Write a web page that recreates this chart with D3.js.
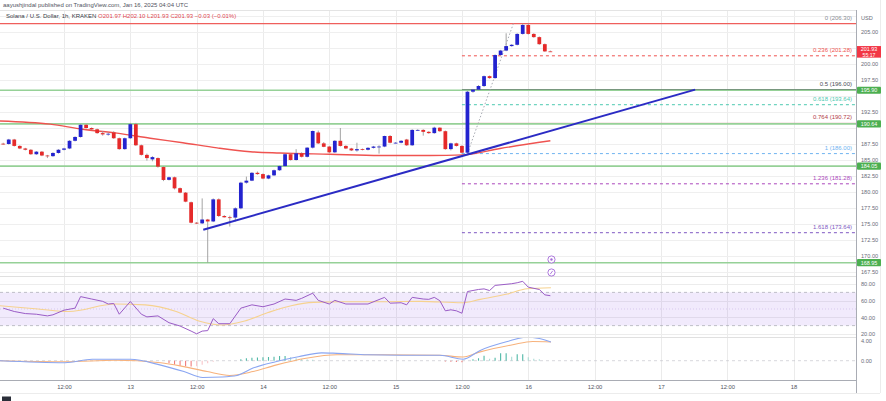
<!DOCTYPE html>
<html>
<head>
<meta charset="utf-8">
<script src="https://cdn.jsdelivr.net/npm/d3@7/dist/d3.min.js"></script>
<style>
  body { margin: 0; background: #fff; }
  svg { display: block; font-family: "Liberation Sans", Arial, sans-serif; }
</style>
</head>
<body>
<svg id="chart" width="886" height="401"></svg>
<script>
// SOL/USD 1h candles, hour counted from Jan 12 00:00 UTC
const candleHours = d3.range(1, 101);
const opens = [
  187.55, 187.5, 188.2, 187.2, 186.8, 186.6, 185.9, 186.3, 185.7, 185.6,
  186.1, 186.6, 186.8, 188.0, 188.6, 190.5, 190.0, 189.8, 189.2, 189.0,
  189.3, 188.4, 186.7, 188.4, 190.6, 187.3, 185.8, 185.1, 185.3, 183.9,
  181.9, 182.3, 180.6, 179.9, 178.4, 175.2, 175.1, 175.7, 175.4, 178.85,
  176.25, 176.05, 176.0, 177.45, 181.46, 181.77, 183.0, 182.8, 182.1, 182.6,
  183.4, 184.05, 185.9, 185.0, 186.05, 185.5, 186.93, 189.3, 187.6, 187.1,
  186.2, 188.0, 187.2, 186.8, 186.5, 186.7, 186.6, 186.9, 187.1, 187.1,
  188.75, 187.7, 187.7, 188.2, 187.3, 189.7, 189.7, 189.4, 189.2, 190.05,
  189.5, 186.7, 187.6, 187.2, 186.14, 195.67, 196.0, 196.56, 198.1, 197.8,
  201.4, 202.1, 202.8, 203.0, 204.7, 206.1, 204.7, 204.2, 203.1, 201.97
];
const highs = [
  187.7, 188.3, 188.3, 187.3, 186.9, 186.7, 186.4, 186.4, 185.8, 186.2,
  186.7, 186.9, 188.1, 188.7, 190.6, 190.6, 190.1, 189.9, 189.5, 189.3,
  189.5, 188.5, 188.5, 190.8, 190.8, 187.4, 186.0, 185.6, 185.4, 184.0,
  182.4, 182.4, 180.7, 180.0, 178.5, 175.3, 179.0, 175.8, 179.0, 179.0,
  176.4, 176.3, 177.6, 181.6, 182.4, 183.1, 183.2, 182.9, 182.7, 183.5,
  184.1, 186.0, 186.0, 186.7, 186.2, 187.0, 189.6, 189.6, 187.8, 187.2,
  188.1, 190.0, 187.3, 186.9, 187.7, 186.8, 187.0, 187.2, 187.3, 188.8,
  188.9, 187.8, 188.1, 188.3, 189.8, 189.8, 189.8, 189.5, 190.2, 190.1,
  189.6, 187.7, 187.7, 187.3, 195.8, 196.1, 196.7, 198.2, 198.2, 201.5,
  202.2, 204.8, 203.1, 204.8, 206.3, 206.3, 204.8, 204.3, 203.2, 202.10
];
const lows = [
  187.4, 187.4, 187.1, 186.7, 186.5, 185.8, 185.8, 185.6, 185.3, 185.5,
  186.0, 186.5, 186.7, 187.9, 188.5, 189.9, 189.7, 189.1, 188.8, 188.8,
  188.3, 186.6, 186.6, 188.3, 187.2, 185.7, 184.9, 184.8, 183.8, 181.7,
  181.8, 180.4, 179.8, 178.4, 175.1, 175.0, 175.0, 168.95, 175.3, 176.1,
  176.0, 174.6, 175.4, 177.3, 181.3, 181.7, 182.7, 182.0, 182.0, 182.5,
  183.3, 184.0, 184.9, 184.9, 185.4, 185.4, 186.8, 187.5, 187.0, 186.1,
  186.1, 187.1, 186.7, 186.4, 186.3, 186.5, 186.5, 186.8, 186.0, 187.0,
  187.6, 187.6, 187.6, 187.2, 187.2, 189.6, 188.8, 189.1, 189.1, 189.4,
  186.6, 186.5, 187.1, 186.0, 186.0, 195.5, 195.9, 196.4, 197.7, 197.7,
  201.3, 202.0, 202.7, 202.9, 204.6, 204.6, 204.1, 203.0, 201.9, 201.93
];
const closes = [
  187.5, 188.2, 187.2, 186.8, 186.6, 185.9, 186.3, 185.7, 185.6, 186.1,
  186.6, 186.8, 188.0, 188.6, 190.5, 190.0, 189.8, 189.2, 189.0, 189.1,
  188.4, 186.7, 188.4, 190.6, 187.3, 185.8, 185.3, 185.45, 183.96, 181.88,
  182.3, 180.57, 179.9, 178.49, 175.2, 175.1, 175.7, 175.4, 178.85, 176.25,
  176.05, 176.0, 177.45, 181.46, 181.77, 183.0, 182.8, 182.1, 182.6, 183.4,
  184.05, 185.9, 185.0, 186.05, 185.5, 186.93, 189.53, 187.6, 187.06, 186.2,
  188.0, 187.2, 186.8, 186.5, 186.7, 186.6, 186.9, 187.1, 187.1, 188.75,
  187.7, 187.7, 188.0, 187.3, 189.7, 189.7, 189.4, 189.2, 190.05, 189.5,
  186.7, 187.6, 187.2, 186.14, 195.67, 196.0, 196.56, 198.1, 197.8, 201.4,
  202.1, 202.8, 203.0, 204.7, 206.1, 204.7, 204.2, 203.1, 201.97, 201.93
];

// moving average (red)
const maHours = [0.4, 9.5, 15.4, 21.6, 27.6, 33.5, 39.7, 45.7, 51.1, 60.1, 69.2, 78.2, 84.2, 90.9, 100];
const maValues = [191.1, 190.6, 189.8, 189.2, 188.4, 187.7, 186.9, 186.3, 186.1, 185.9, 185.7, 185.7, 185.8, 186.8, 188.0];

// drawings
const greenLevels = [195.90, 190.64, 184.05, 168.95];
const resistanceLevel = 206.30;
const trendHours = [37.2, 126.2];
const trendPrices = [174.1, 196.0];
const fibStartHour = 84;
const fibDiagHours = [85, 93.3];
const fibDiagPrices = [186.0, 206.3];
const fibRatios = ["0", "0.236", "0.5", "0.618", "0.764", "1", "1.236", "1.618"];
const fibPrices = [206.30, 201.28, 196.00, 193.64, 190.72, 186.00, 181.28, 173.64];
const fibColors = ["#8a8d96", "#ef5350", "#4a4d55", "#4dc9b0", "#b23a48", "#6fb3f0", "#ab47bc", "#7e57c2"];
const fibDashed = [false, true, false, true, false, true, true, true];

// RSI
const rsiHours = [1, 3, 5, 7, 9, 10, 12, 14, 15, 17, 19, 20, 21, 22, 24, 26, 27, 29, 31, 33, 35, 36, 37, 38, 39, 40, 42,
  44, 46, 48, 50, 52, 54, 55, 57, 58, 60, 61, 63, 67, 70, 71, 73, 74, 75, 77, 78, 79, 80, 81, 82, 83, 84, 85, 87, 88, 89, 90, 93, 94, 95, 96, 98, 99, 100];
const rsiValues = [51, 47, 44.5, 43.7, 41.7, 43, 48.6, 51, 64.9, 62, 59.2, 56, 56.6, 43.7, 59, 43.7, 40.5, 41.7, 33.5, 29.5, 23.4, 20.1, 23.4, 24, 38.4, 32.3, 32.3,
  51, 55, 52.7, 56, 62, 60.4, 62.8, 69, 60.4, 56, 60.4, 56, 56, 64, 57, 57.5, 55, 64, 62, 61.6, 64, 60, 47.8, 49, 47.8, 44.9, 71, 73.5, 74.2, 72.2, 78.4, 80.4, 81.6, 83.3, 76.3, 73.5, 67, 66];
const rsiMaHours = [0.4, 7.3, 12.9, 21.2, 26.7, 32.3, 36.4, 40.6, 44.7, 48.9, 53.1, 57.2, 62.7, 69.7, 76.6, 84, 87.3, 92.2, 95.8, 100.1];
const rsiMaValues = [54, 50, 47, 56, 55, 47, 35.6, 30.7, 35.6, 45.7, 54, 58, 58.8, 58.8, 59.2, 57.5, 61.6, 68, 74.3, 75.5];
const rsiTicks = [80, 60, 40, 20];

// MACD
const macdHours = [0.4, 12.2, 17.1, 24, 29.5, 33.7, 37.1, 40.6, 43.3, 46.2, 50.3, 54.4, 58.6, 61.4, 66.9, 73.1, 80, 84.2, 87.3, 92.2, 95.8, 98, 100.1];
const macdValues = [0, -0.4, 0.3, 0.3, -0.9, -2.2, -3.4, -3.3, -3.0, -1.5, -0.2, 0.8, 1.6, 1.5, 1.2, 1.1, 1.1, 0.3, 2.1, 3.9, 4.8, 4.5, 3.8];
const signalHours = [0.4, 12.2, 21.2, 29.5, 33.7, 37.9, 42, 46.2, 50.3, 55.8, 61.4, 69.7, 80, 84.2, 87.3, 93.2, 96.8, 100.1];
const signalValues = [0, -0.2, 0.1, -0.4, -1.2, -2.2, -3.0, -2.2, -0.9, 0.5, 1.2, 1.2, 1.1, 0.75, 1.8, 3.25, 3.9, 3.8];
const histHours = [31, 32, 33, 34, 35, 36, 37, 38, 39, 44, 45, 46, 47, 48, 49, 50, 51, 52, 53, 54, 55, 56, 57,
  81, 82, 83, 84, 86, 87, 88, 89, 90, 91, 92, 93, 94, 95, 96, 97, 98];
const histValues = [-0.5, -0.8, -1.0, -1.1, -1.2, -1.1, -0.8, -0.5, -0.2, 0.3, 0.5, 0.6, 0.65, 0.7, 0.75, 0.8, 0.95, 0.95, 0.7, 0.5, 0.35, 0.25, 0.2,
  -0.15, -0.2, -0.25, -0.3, 0.3, 0.5, 1.0, 0.4, 0.6, 1.5, 1.5, 0.8, 1.3, 1.3, 0.7, 0.4, 0.3];
const macdTicks = [4, 0];

// axis ticks
const priceTicks = [207.5, 205, 202.5, 200, 197.5, 195, 192.5, 190, 187.5, 185, 182.5, 180, 177.5, 175, 172.5, 170, 167.5];
const timeTicks = [12, 24, 36, 48, 60, 72, 84, 96, 108, 120, 132, 144];
const timeLabels = ["12:00", "13", "12:00", "14", "12:00", "15", "12:00", "16", "12:00", "17", "12:00", "18"];

const lastPrice = 201.93;

// ---- layout
const plotRight = 856;
const svg = d3.select("#chart");
const x = d3.scaleLinear().domain([0.42, 155.3]).range([0, plotRight]);
const yMain = d3.scaleLinear().domain([166.875, 208.4375]).range([276, 10]);
const yRsi = d3.scaleLinear().domain([16.3, 87.3]).range([337, 278]);
const yMacd = d3.scaleLinear().domain([-3.92, 4.82]).range([380, 337]);

const defs = svg.append("defs");
function clip(id, y0, y1) {
  defs.append("clipPath").attr("id", id)
    .append("rect").attr("x", 0).attr("y", y0).attr("width", plotRight).attr("height", y1 - y0);
}
clip("cMain", 10, 276);
clip("cRsi", 277, 337);
clip("cMacd", 338, 380);

// frame
svg.append("rect").attr("width", 886).attr("height", 401).attr("fill", "#fff");
svg.append("line").attr("x1", 880.5).attr("x2", 880.5).attr("y1", 0).attr("y2", 393).attr("stroke", "#ececec");
svg.append("line").attr("x1", 0).attr("x2", 880).attr("y1", 393.5).attr("y2", 393.5).attr("stroke", "#ececec");

// vertical grid
svg.append("g").selectAll("line").data(timeTicks).enter().append("line")
  .attr("x1", d => Math.round(x(d)) + 0.5).attr("x2", d => Math.round(x(d)) + 0.5)
  .attr("y1", 10).attr("y2", 380).attr("stroke", "#ebebeb");

// horizontal grid main
svg.append("g").selectAll("line").data(priceTicks).enter().append("line")
  .attr("x1", 0).attr("x2", plotRight)
  .attr("y1", d => Math.round(yMain(d)) + 0.5).attr("y2", d => Math.round(yMain(d)) + 0.5)
  .attr("stroke", "#efefef");

// pane separators
[[10.5, "#e4e4e4"], [276.5, "#e0e0e0"], [337.5, "#e0e0e0"], [380.5, "#a9acb4"]].forEach(([yy, c]) => {
  svg.append("line").attr("x1", 0).attr("x2", plotRight).attr("y1", yy).attr("y2", yy).attr("stroke", c);
});
svg.append("line").attr("x1", plotRight + 0.5).attr("x2", plotRight + 0.5).attr("y1", 10).attr("y2", 393).attr("stroke", "#a9acb4");

// ---- main pane
const main = svg.append("g").attr("clip-path", "url(#cMain)");

// full width resistance line
main.append("line")
  .attr("x1", 0).attr("x2", plotRight)
  .attr("y1", yMain(resistanceLevel)).attr("y2", yMain(resistanceLevel))
  .attr("stroke", "#ef5f5c").attr("stroke-width", 1.2);

// fib levels
fibPrices.forEach((p, i) => {
  if (i === 0) return;
  main.append("line")
    .attr("x1", x(fibStartHour)).attr("x2", plotRight)
    .attr("y1", yMain(p)).attr("y2", yMain(p))
    .attr("stroke", fibColors[i]).attr("stroke-width", 1)
    .attr("stroke-dasharray", fibDashed[i] ? "3,3" : null);
});

// green support / resistance lines
main.append("g").selectAll("line").data(greenLevels).enter().append("line")
  .attr("x1", 0).attr("x2", plotRight)
  .attr("y1", d => yMain(d)).attr("y2", d => yMain(d))
  .attr("stroke", "#96d197").attr("stroke-width", 1.6);

// fib labels
svg.append("g").selectAll("text").data(fibPrices).enter().append("text")
  .attr("x", 852).attr("y", d => yMain(d) - 4)
  .attr("text-anchor", "end").attr("font-size", 6)
  .attr("fill", (d, i) => fibColors[i])
  .text((d, i) => `${fibRatios[i]} (${d.toFixed(2)})`);

// fib diagonal
main.append("line")
  .attr("x1", x(fibDiagHours[0])).attr("y1", yMain(fibDiagPrices[0]))
  .attr("x2", x(fibDiagHours[1])).attr("y2", yMain(fibDiagPrices[1]))
  .attr("stroke", "#a8abb3").attr("stroke-width", 1).attr("stroke-dasharray", "1.5,2");

// moving average
main.append("path")
  .datum(maHours.map((h, i) => [h, maValues[i]]))
  .attr("fill", "none").attr("stroke", "#ef5350").attr("stroke-width", 1.4)
  .attr("d", d3.line().x(d => x(d[0])).y(d => yMain(d[1])).curve(d3.curveMonotoneX));

// candles
const candles = candleHours.map((h, i) => ({ h, o: opens[i], hi: highs[i], lo: lows[i], c: closes[i] }));
const bw = (x(2) - x(1)) * 0.68;
main.append("g").selectAll("line").data(candles).enter().append("line")
  .attr("x1", d => x(d.h)).attr("x2", d => x(d.h))
  .attr("y1", d => yMain(d.hi)).attr("y2", d => yMain(d.lo))
  .attr("stroke", "#9a9a9a").attr("stroke-width", 0.9);
main.append("g").selectAll("rect").data(candles).enter().append("rect")
  .attr("x", d => x(d.h) - bw / 2).attr("width", bw)
  .attr("y", d => yMain(Math.max(d.o, d.c)))
  .attr("height", d => Math.max(0.8, Math.abs(yMain(d.o) - yMain(d.c))))
  .attr("fill", d => d.c >= d.o ? "#2323cf" : "#e52a2a");

// trendline
main.append("line")
  .attr("x1", x(trendHours[0])).attr("y1", yMain(trendPrices[0]))
  .attr("x2", x(trendHours[1])).attr("y2", yMain(trendPrices[1]))
  .attr("stroke", "#2b2bc4").attr("stroke-width", 2);

// event markers
const mx = x(100.2);
[259.5, 272.5].forEach((my, i) => {
  svg.append("circle").attr("cx", mx).attr("cy", my).attr("r", 3.6)
    .attr("fill", "#fff").attr("stroke", "#a46ad8").attr("stroke-width", 0.9);
  if (i === 0) {
    svg.append("circle").attr("cx", mx).attr("cy", my).attr("r", 1.2).attr("fill", "#a46ad8");
  } else {
    svg.append("line").attr("x1", mx - 1.2).attr("x2", mx + 1.2).attr("y1", my + 1.6).attr("y2", my - 1.6)
      .attr("stroke", "#a46ad8").attr("stroke-width", 0.9);
  }
});

// ---- RSI pane
const rsiG = svg.append("g").attr("clip-path", "url(#cRsi)");
rsiG.append("g").selectAll("line").data(rsiTicks).enter().append("line")
  .attr("x1", 0).attr("x2", plotRight)
  .attr("y1", d => Math.round(yRsi(d)) + 0.5).attr("y2", d => Math.round(yRsi(d)) + 0.5)
  .attr("stroke", "#ececec");
rsiG.append("rect").attr("x", 0).attr("width", plotRight)
  .attr("y", yRsi(70)).attr("height", yRsi(30) - yRsi(70))
  .attr("fill", "rgba(150,90,230,0.13)");
[70, 30].forEach(v => {
  rsiG.append("line").attr("x1", 0).attr("x2", plotRight).attr("y1", yRsi(v)).attr("y2", yRsi(v))
    .attr("stroke", "#a5a7b0").attr("stroke-width", 0.7).attr("stroke-dasharray", "3,3");
});
rsiG.append("line").attr("x1", 0).attr("x2", plotRight).attr("y1", yRsi(50)).attr("y2", yRsi(50))
  .attr("stroke", "#c8b4e6").attr("stroke-width", 0.6).attr("stroke-dasharray", "1,2");
rsiG.append("path")
  .datum(rsiMaHours.map((h, i) => [h, rsiMaValues[i]]))
  .attr("fill", "none").attr("stroke", "#f6d28f").attr("stroke-width", 1.1)
  .attr("d", d3.line().x(d => x(d[0])).y(d => yRsi(d[1])).curve(d3.curveMonotoneX));
rsiG.append("path")
  .datum(rsiHours.map((h, i) => [h, rsiValues[i]]))
  .attr("fill", "none").attr("stroke", "#9a5cc6").attr("stroke-width", 1)
  .attr("d", d3.line().x(d => x(d[0])).y(d => yRsi(d[1])));

// ---- MACD pane
const macdG = svg.append("g").attr("clip-path", "url(#cMacd)");
macdG.append("line").attr("x1", 0).attr("x2", plotRight)
  .attr("y1", yMacd(0)).attr("y2", yMacd(0))
  .attr("stroke", "#c4c6cc").attr("stroke-width", 0.7).attr("stroke-dasharray", "3,3");
function histColor(v, i) {
  const prev = i > 0 && histHours[i - 1] === histHours[i] - 1 ? histValues[i - 1] : 0;
  if (v >= 0) return v >= prev ? "#4fb8a6" : "#a9dcd5";
  return v <= prev ? "#f07c7c" : "#f8c4c8";
}
macdG.append("g").selectAll("line").data(histHours).enter().append("line")
  .attr("x1", d => x(d)).attr("x2", d => x(d))
  .attr("y1", yMacd(0)).attr("y2", (d, i) => yMacd(histValues[i]))
  .attr("stroke", (d, i) => histColor(histValues[i], i))
  .attr("stroke-width", 1.1);
macdG.append("path")
  .datum(signalHours.map((h, i) => [h, signalValues[i]]))
  .attr("fill", "none").attr("stroke", "#f7b27c").attr("stroke-width", 1.1)
  .attr("d", d3.line().x(d => x(d[0])).y(d => yMacd(d[1])).curve(d3.curveMonotoneX));
macdG.append("path")
  .datum(macdHours.map((h, i) => [h, macdValues[i]]))
  .attr("fill", "none").attr("stroke", "#8aa6f2").attr("stroke-width", 1.1)
  .attr("d", d3.line().x(d => x(d[0])).y(d => yMacd(d[1])).curve(d3.curveMonotoneX));

// ---- axes
const tagPrices = greenLevels.concat([lastPrice]);
const priceAxis = svg.append("g").attr("transform", `translate(${plotRight},0)`)
  .call(d3.axisRight(yMain).tickValues(priceTicks.filter(p => yMain(p) > 26 && tagPrices.every(t => Math.abs(yMain(t) - yMain(p)) > 6)))
    .tickFormat(d3.format(".2f")).tickSize(0).tickPadding(5));
priceAxis.select(".domain").remove();
priceAxis.selectAll("text").attr("font-size", 5.6).attr("fill", "#6a6d78").attr("font-family", null);

const rsiAxis = svg.append("g").attr("transform", `translate(${plotRight},0)`)
  .call(d3.axisRight(yRsi).tickValues(rsiTicks).tickFormat(d3.format(".2f")).tickSize(0).tickPadding(5));
rsiAxis.select(".domain").remove();
rsiAxis.selectAll("text").attr("font-size", 5.6).attr("fill", "#6a6d78").attr("font-family", null);

const macdAxis = svg.append("g").attr("transform", `translate(${plotRight},0)`)
  .call(d3.axisRight(yMacd).tickValues(macdTicks).tickFormat(d3.format(".2f")).tickSize(0).tickPadding(5));
macdAxis.select(".domain").remove();
macdAxis.selectAll("text").attr("font-size", 5.6).attr("fill", "#6a6d78").attr("font-family", null);

const timeAxis = svg.append("g").attr("transform", "translate(0,381)")
  .call(d3.axisBottom(x).tickValues(timeTicks).tickFormat((d, i) => timeLabels[i]).tickSize(0).tickPadding(4));
timeAxis.select(".domain").remove();
timeAxis.selectAll("text").attr("font-size", 5.8).attr("fill", "#50535e").attr("font-family", null);

svg.append("text").attr("x", 861).attr("y", 20).attr("font-size", 5.6).attr("fill", "#6a6d78").text("USD");

// price tags
greenLevels.forEach(p => {
  const yy = yMain(p);
  svg.append("rect").attr("x", plotRight + 1).attr("y", yy - 3.6).attr("width", 24).attr("height", 7.2)
    .attr("rx", 1).attr("fill", "#4caf50");
  svg.append("text").attr("x", plotRight + 13).attr("y", yy + 2).attr("text-anchor", "middle")
    .attr("font-size", 5.4).attr("fill", "#fff").text(p.toFixed(2));
});
{
  const yy = yMain(lastPrice);
  svg.append("rect").attr("x", plotRight + 1).attr("y", yy - 5.6).attr("width", 24).attr("height", 11.6)
    .attr("fill", "#f23645");
  svg.append("text").attr("x", plotRight + 13).attr("y", yy - 0.4).attr("text-anchor", "middle")
    .attr("font-size", 5.4).attr("fill", "#fff").text(lastPrice.toFixed(2));
  svg.append("text").attr("x", plotRight + 13).attr("y", yy + 5).attr("text-anchor", "middle")
    .attr("font-size", 5.2).attr("fill", "#fff").text("55:17");
}

// ---- header
svg.append("text").attr("x", 3).attr("y", 6.5).attr("font-size", 6).attr("fill", "#50535e")
  .text("aayushjindal published on TradingView.com, Jan 16, 2025 04:04 UTC");
const legend = svg.append("text").attr("x", 6).attr("y", 18).attr("font-size", 6).attr("fill", "#363a45");
legend.append("tspan").text("Solana / U.S. Dollar, 1h, KRAKEN  ");
legend.append("tspan").attr("fill", "#e0474f").text("O201.97  H202.10  L201.93  C201.93  −0.03 (−0.01%)");

// logo
svg.append("rect").attr("x", 2).attr("y", 396.5).attr("width", 9).attr("height", 4.5).attr("fill", "#2a2e39");
</script>
</body>
</html>
